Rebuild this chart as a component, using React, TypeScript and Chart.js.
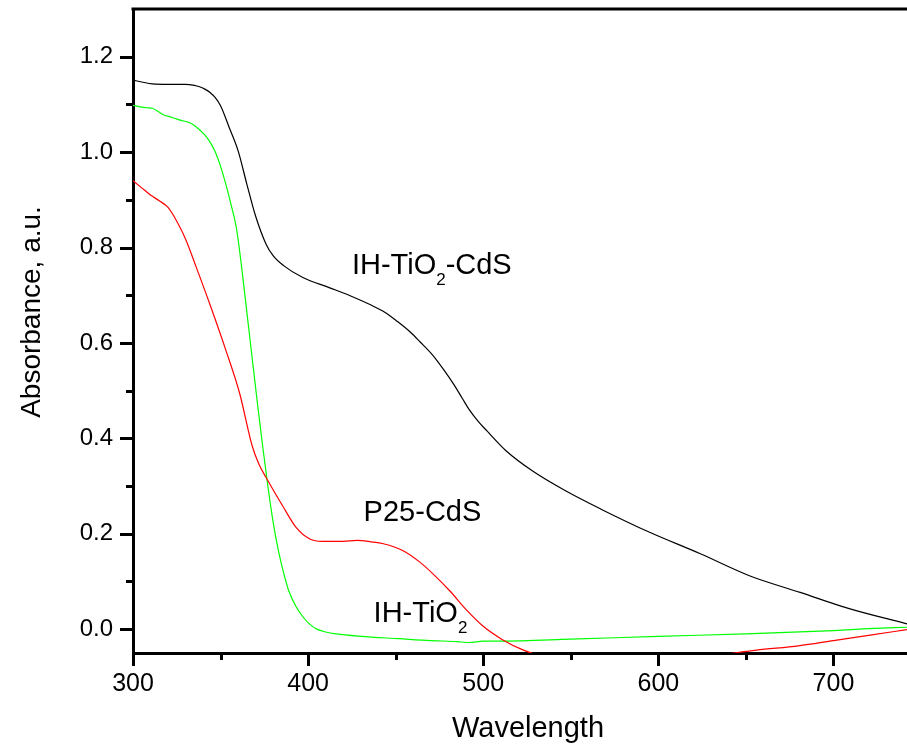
import React, { useEffect, useRef } from "react";
import { Chart, registerables } from "chart.js";

Chart.register(...registerables);

// IH-TiO2-CdS (black)
const blackWl = [300, 305, 311, 320, 330, 335, 338, 341, 344, 347, 350, 355, 360, 365, 370, 376, 380, 386, 397, 412, 424, 435, 444, 451, 458, 464, 471, 477, 483, 488, 492, 497, 502, 513, 528, 547, 567, 595, 624, 652, 681, 709, 742];
const blackAbs = [1.151, 1.147, 1.143, 1.142, 1.142, 1.140, 1.137, 1.132, 1.125, 1.114, 1.097, 1.051, 1.003, 0.933, 0.866, 0.807, 0.783, 0.762, 0.737, 0.716, 0.699, 0.681, 0.664, 0.645, 0.624, 0.602, 0.575, 0.546, 0.514, 0.484, 0.460, 0.436, 0.416, 0.374, 0.332, 0.290, 0.252, 0.203, 0.158, 0.112, 0.077, 0.043, 0.011];

// P25-CdS (red)
const redWl = [300, 305, 310, 315, 320, 325, 330, 336, 344, 353, 361, 368, 372, 376, 386, 393, 401, 408, 420, 428, 436, 443, 454, 464, 471, 481, 490, 500, 511, 523, 535, 560, 590, 620, 640, 656, 680, 700, 720, 742];
const redAbs = [0.940, 0.925, 0.910, 0.898, 0.884, 0.855, 0.818, 0.760, 0.680, 0.585, 0.493, 0.385, 0.345, 0.318, 0.255, 0.214, 0.189, 0.184, 0.184, 0.186, 0.183, 0.179, 0.165, 0.140, 0.117, 0.080, 0.042, 0.006, -0.022, -0.044, -0.058, -0.072, -0.076, -0.066, -0.052, -0.044, -0.035, -0.024, -0.013, -0.001];

// IH-TiO2 (green)
const greenWl = [300, 304, 308, 311, 317, 322, 327, 332, 335, 338, 341, 344, 347, 350, 353, 356, 359, 362, 365, 368, 371, 374, 377, 380, 383, 386, 389, 393, 397, 401, 405, 410, 416, 430, 452, 470, 485, 492, 500, 510, 550, 600, 650, 700, 720, 742];
const greenAbs = [1.098, 1.095, 1.093, 1.092, 1.079, 1.073, 1.067, 1.062, 1.056, 1.047, 1.036, 1.021, 1.000, 0.970, 0.933, 0.890, 0.842, 0.760, 0.665, 0.570, 0.475, 0.385, 0.300, 0.225, 0.165, 0.118, 0.080, 0.048, 0.026, 0.010, 0.000, -0.006, -0.010, -0.015, -0.020, -0.024, -0.026, -0.028, -0.025, -0.025, -0.021, -0.015, -0.010, -0.003, 0.001, 0.004];

const xMajorTicks = [300, 400, 500, 600, 700];
const xMinorTicks = [350, 450, 550, 650];
const yMajorTicks = [0, 0.2, 0.4, 0.6, 0.8, 1.0, 1.2];
const yMinorTicks = [0.1, 0.3, 0.5, 0.7, 0.9, 1.1];

const curveLabels = [
  { main: "IH-TiO", sub: "2", tail: "-CdS", wl: 425, abs: 0.744 },
  { main: "P25-CdS", sub: "", tail: "", wl: 431.7, abs: 0.226 },
  { main: "IH-TiO", sub: "2", tail: "", wl: 437.4, abs: 0.015 },
];

const FONT = '"Liberation Sans", Arial, Helvetica, sans-serif';

const toPoints = (xs: number[], ys: number[]) => xs.map((x, i) => ({ x, y: ys[i] }));

const decorPlugin = {
  id: "decor",
  afterDraw(chart: any) {
    const { ctx, chartArea, scales } = chart;
    const xs = scales.x;
    const ys = scales.y;
    ctx.save();
    ctx.strokeStyle = "#000";
    ctx.lineWidth = 3;
    ctx.lineCap = "butt";
    // top frame line
    ctx.beginPath();
    ctx.moveTo(chartArea.left - 1.5, chartArea.top);
    ctx.lineTo(chartArea.right, chartArea.top);
    ctx.stroke();
    const yTick = (v: number, len: number) => {
      const p = Math.round(ys.getPixelForValue(v)) + 0.5;
      ctx.beginPath();
      ctx.moveTo(chartArea.left - len, p);
      ctx.lineTo(chartArea.left, p);
      ctx.stroke();
    };
    const xTick = (v: number, len: number) => {
      const p = Math.round(xs.getPixelForValue(v)) + 0.5;
      ctx.beginPath();
      ctx.moveTo(p, chartArea.bottom);
      ctx.lineTo(p, chartArea.bottom + len);
      ctx.stroke();
    };
    yMajorTicks.forEach((v) => yTick(v, 13));
    yMinorTicks.forEach((v) => yTick(v, 7));
    xMajorTicks.forEach((v) => xTick(v, 13));
    xMinorTicks.forEach((v) => xTick(v, 7));

    ctx.fillStyle = "#000";
    // axis titles
    ctx.font = `29px ${FONT}`;
    ctx.textAlign = "center";
    ctx.textBaseline = "alphabetic";
    ctx.fillText("Wavelength", (chartArea.left + chartArea.right) / 2 + 8, 737);
    ctx.save();
    ctx.translate(40, (chartArea.top + chartArea.bottom) / 2 - 19);
    ctx.rotate(-Math.PI / 2);
    ctx.font = `28px ${FONT}`;
    ctx.fillText("Absorbance, a.u.", 0, 0);
    ctx.restore();

    // curve labels
    ctx.textAlign = "left";
    curveLabels.forEach((l) => {
      let x = xs.getPixelForValue(l.wl);
      const y = ys.getPixelForValue(l.abs);
      ctx.font = `29px ${FONT}`;
      ctx.fillText(l.main, x, y);
      x += ctx.measureText(l.main).width;
      if (l.sub) {
        ctx.font = `17px ${FONT}`;
        ctx.fillText(l.sub, x, y + 11);
        x += ctx.measureText(l.sub).width;
      }
      if (l.tail) {
        ctx.font = `29px ${FONT}`;
        ctx.fillText(l.tail, x, y);
      }
    });
    ctx.restore();
  },
};

export default function App() {
  const canvasRef = useRef<HTMLCanvasElement | null>(null);

  useEffect(() => {
    if (!canvasRef.current) return;
    const lineDefaults = {
      pointRadius: 0,
      borderWidth: 1.2,
      fill: false,
      cubicInterpolationMode: "monotone" as const,
    };
    const chart = new Chart(canvasRef.current, {
      type: "line",
      data: {
        datasets: [
          { label: "IH-TiO2-CdS", data: toPoints(blackWl, blackAbs), borderColor: "#000000", ...lineDefaults },
          { label: "P25-CdS", data: toPoints(redWl, redAbs), borderColor: "#ff0000", ...lineDefaults },
          { label: "IH-TiO2", data: toPoints(greenWl, greenAbs), borderColor: "#00ff00", ...lineDefaults },
        ],
      },
      options: {
        responsive: false,
        animation: false,
        devicePixelRatio: 1,
        layout: { padding: { top: 9, right: 0, left: 0, bottom: 0 } },
        plugins: {
          legend: { display: false },
          tooltip: { enabled: false },
          title: { display: false },
        },
        scales: {
          x: {
            type: "linear",
            min: 300,
            max: 742,
            grid: { display: false, drawTicks: false },
            border: { display: true, color: "#000", width: 3 },
            ticks: {
              stepSize: 100,
              includeBounds: false,
              maxRotation: 0,
              padding: 16,
              color: "#000",
              font: { family: FONT, size: 25 },
              callback: (v: any) => String(v),
            },
            afterFit: (s: any) => {
              s.height = 92;
              s.paddingLeft = 0;
              s.paddingRight = 0;
              s.paddingTop = 0;
              s.paddingBottom = 0;
            },
          },
          y: {
            type: "linear",
            min: -0.05,
            max: 1.3,
            grid: { display: false, drawTicks: false },
            border: { display: true, color: "#000", width: 3 },
            ticks: {
              stepSize: 0.2,
              includeBounds: false,
              padding: 20,
              color: "#000",
              font: { family: FONT, size: 24 },
              callback: (v: any) => Number(v).toFixed(1),
            },
            afterFit: (s: any) => {
              s.width = 133;
              s.paddingTop = 0;
              s.paddingBottom = 0;
              s.paddingLeft = 0;
              s.paddingRight = 0;
            },
          },
        },
      },
      plugins: [decorPlugin],
    });
    return () => chart.destroy();
  }, []);

  return (
    <div style={{ position: "absolute", left: 0, top: 0, width: 907, height: 745, background: "#fff" }}>
      <canvas ref={canvasRef} width={907} height={745} style={{ width: 907, height: 745, display: "block" }} />
    </div>
  );
}
